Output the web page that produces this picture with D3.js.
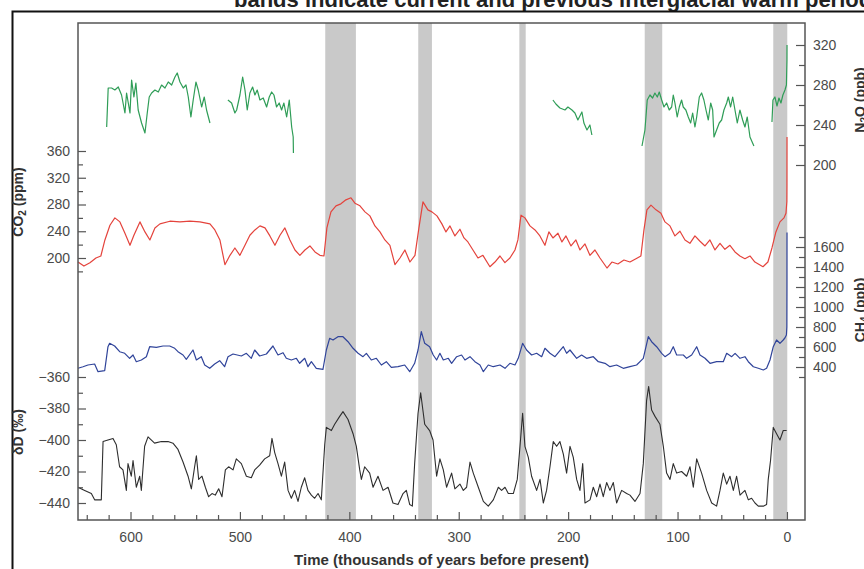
<!DOCTYPE html>
<html>
<head>
<meta charset="utf-8">
<script src="https://cdn.jsdelivr.net/npm/d3@7"></script>
<style>
  body { margin: 0; background: #fff; }
  svg { display: block; }
  text { font-family: "Liberation Sans", Arial, sans-serif; }
</style>
</head>
<body>
<svg id="chart" width="864" height="569"></svg>
<script>
// time in thousands of years before present, values per gas / proxy
var interglacials = [[422, 394], [337, 324.5], [244.6, 238.8], [130, 114], [12.5, -0.3]];

var ageTicks = [600, 500, 400, 300, 200, 100, 0];
var ageMinor = [640, 620, 580, 560, 540, 520, 480, 460, 440, 420, 380, 360, 340, 320,
  280, 260, 240, 220, 180, 160, 140, 120, 80, 60, 40, 20];
var co2Ticks = [200, 240, 280, 320, 360];
var co2Minor = [180, 220, 260, 300, 340];
var deutTicks = [-440, -420, -400, -380, -360];
var deutMinor = [-430, -410, -390, -370];
var n2oTicks = [200, 240, 280, 320];
var n2oMinor = [220, 260, 300];
var ch4Ticks = [400, 600, 800, 1000, 1200, 1400, 1600];
var ch4Minor = [300, 500, 700, 900, 1100, 1300, 1500, 1700];

var n2oA = [[621.8,238],[620.4,277],[617.3,277],[614.3,275],[611.2,278],[608.2,270],[605.1,252],[603.6,272],
  [600.5,252],[599,285],[596.9,268],[595.1,282],[593,255],[589.9,242],[586.8,232],[584.7,252],[582.9,268],
  [580.7,272],[577.7,275],[574.6,273],[571.6,280],[568.5,277],[565.5,283],[562.4,280],[559.4,288],
  [557.3,292],[554.8,283],[551.8,277],[549.3,280],[547.2,268],[544.8,248],[542.7,265],[540.2,283],
  [538.1,275],[535,258],[532.6,268],[530.5,255],[527.4,242]];
var n2oB = [[511,265],[507.6,262],[504.6,252],[503,255],[500,270],[497.5,288],[495.4,275],[493.3,255],
  [490.9,272],[488.4,278],[486.3,270],[484.2,275],[481.7,265],[478.7,267],[475.6,258],[473.2,268],
  [471,273],[468.9,270],[466.5,258],[464.1,262],[461.9,255],[459.8,262],[457.3,248],[454.9,265],
  [452.7,238],[451.3,228],[451.1,212]];
var n2oC = [[213.9,265],[211.2,261],[207.5,257],[202.9,255],[200.2,258],[196.5,255],[193.8,252],
  [191.1,245],[187.4,253],[185.6,242],[182.8,235],[180.1,240],[178.3,230]];
var n2oD = [[132.5,219],[129.8,235],[127.7,265],[125.2,270],[122.8,267],[120.7,272],[118.5,268],
  [116.7,273],[114.5,265],[112.4,258],[110,262],[107.6,255],[105.4,258],[103.9,270],[102.4,262],
  [100.3,248],[98.4,258],[96.3,265],[94.8,258],[92.4,255],[90.2,248],[88,242],[86.2,252],[84.1,238],
  [82.5,248],[80.1,268],[78,272],[75.9,265],[74,255],[71.9,245],[69.7,262],[67.9,255],[66.7,228],
  [64.3,235],[61.9,242],[59.7,245],[57.6,255],[55.1,262],[53.6,268],[51.5,258],[49.6,268],[47.5,255],
  [45.4,242],[43,255],[40.5,245],[38.4,238],[36.3,248],[33.8,228],[30.2,219]];
var n2oE = [[13.7,243],[12.8,265],[11,268],[9.1,259],[7.3,267],[5.5,262],[3.7,270],[1.8,275],
  [0.5,280],[0,305],[-0.05,320]];

var co2Data = [[648,194],[642.6,188],[637.1,193],[631.6,200],[627.1,203],[623.4,227],[618.8,249],
  [614.3,260],[609.7,254],[605.1,237],[600.5,219],[596.9,234],[591.4,254],[586.8,239],[582.3,227],
  [577.7,245],[573.1,251],[564,255],[554.8,254],[545.7,255],[536.6,254],[527.4,251],[522.9,242],
  [518.3,227],[513.7,190],[509.1,204],[504.6,215],[500,204],[495.4,219],[490.9,234],[486.3,242],
  [481.7,248],[477.1,245],[472.6,233],[468,219],[463.4,234],[458.9,245],[454.3,227],[449.7,212],
  [445.2,204],[440.6,212],[436,218],[431.4,209],[426.9,204],[423.2,203],[420.5,245],[416.8,269],
  [412.2,278],[407.7,281],[403.1,287],[398.5,290],[394.9,282],[390.3,278],[385.7,269],[381.2,263],
  [376.6,248],[372,239],[367.5,227],[362.9,219],[358.3,190],[353.7,200],[349.2,212],[344.6,194],
  [340,204],[336.4,245],[332.7,284],[328.2,272],[324.5,269],[319.9,263],[315.4,251],[311.7,239],
  [308,248],[303.5,233],[298.9,243],[295.2,230],[291.6,224],[287,212],[282.4,200],[277.9,204],
  [271.5,187],[266.9,194],[262.3,203],[257.8,193],[253.2,200],[248.6,212],[245.9,227],[243.1,264],
  [239.5,260],[234.9,248],[230.3,242],[225.8,233],[221.2,219],[217.6,239],[213.9,230],[209.3,237],
  [205.7,224],[202,233],[197.4,218],[192.9,227],[189.2,212],[184.6,221],[180.1,204],[175.5,212],
  [170.9,200],[164.5,185],[160,194],[154.5,191],[149,197],[143.5,194],[138,199],[133.5,203],
  [130.7,242],[128,272],[124.3,279],[119.7,272],[115.2,267],[111.5,254],[106.9,248],[102.4,233],
  [97.8,240],[93.2,227],[88.7,222],[84.1,233],[79.5,225],[74.9,218],[70.4,227],[65.8,212],[61.2,222],
  [56.7,213],[52.1,219],[47.5,209],[43,203],[38.4,199],[33.8,203],[29.3,194],[21.9,187],[17.4,194],
  [13.7,215],[10.1,239],[6.4,254],[2.7,260],[0.9,267],[0.1,284],[0,310],[-0.05,381]];

var ch4Data = [[648,387],[643.4,403],[638.9,420],[632.8,430],[629.7,353],[623.6,363],[620.6,603],
  [619.1,637],[614.5,610],[609.9,553],[605.3,537],[600.8,487],[597.7,520],[594.7,453],[590.1,470],
  [585.5,503],[582.5,603],[576.4,597],[570.3,610],[564.2,610],[559.6,587],[556.6,553],[552,520],
  [549,477],[542.9,570],[539.8,470],[535.3,503],[532.2,420],[527.6,387],[523.1,430],[518.5,463],
  [514,403],[510.9,503],[506.3,530],[498.7,510],[494.1,537],[489.6,487],[486.5,570],[482,510],
  [475.8,530],[469.8,610],[465.2,520],[460.6,543],[457.6,487],[453,470],[448.4,487],[445.4,437],
  [440.8,487],[437.8,403],[434.7,453],[430.2,387],[424.1,377],[421,570],[418,687],[414.9,670],
  [410.4,703],[405.8,703],[401.2,653],[396.6,587],[392,537],[387.5,503],[384.4,537],[379.9,470],
  [375.3,487],[370.7,420],[366.2,453],[361.6,397],[355.5,403],[349.4,420],[344.8,353],[340.3,437],
  [337.2,570],[334.2,753],[331.1,637],[326.6,603],[323.3,520],[320.2,470],[317.2,537],[314.1,470],
  [309.5,487],[306.5,437],[301.9,503],[297.4,520],[294.3,470],[289.7,503],[285.2,453],[280.6,420],
  [277.5,353],[273,420],[268.4,403],[262.3,420],[257.7,387],[253.2,437],[248.6,420],[245.6,487],
  [241.6,637],[238,570],[233.4,520],[228.8,537],[224.2,503],[221.2,587],[216.6,537],[212,503],
  [207.5,563],[204.4,603],[201.4,537],[198.3,570],[192.2,487],[187.7,520],[183.1,487],[177,503],
  [172.4,453],[166.3,437],[161.8,403],[155.7,420],[149.6,387],[143.5,403],[137.4,420],[131.3,487],
  [126.7,703],[123.7,653],[119.1,603],[114.5,537],[111.5,503],[106.9,537],[103.9,603],[100.8,520],
  [94.7,520],[91.7,487],[87.1,520],[82.5,603],[79.5,520],[74.9,487],[70.3,437],[64.3,453],[58.2,453],
  [55.1,537],[50.5,503],[47.4,537],[42.9,487],[38.4,503],[35.3,453],[30.7,403],[26.2,387],[21.6,370],
  [18.6,387],[15.5,470],[12.5,603],[9.5,670],[6.4,637],[3.4,670],[1.9,690],[0.5,720],[0.1,800],
  [0,1200],[-0.05,1745]];

var deutData = [[648,-430],[641.9,-432],[635.8,-434],[632.8,-438],[626.7,-438],[625.1,-401],
  [620.6,-400],[616,-399],[613,-403],[610,-417],[606.9,-419],[603.8,-432],[602.3,-415],[599.3,-423],
  [597.7,-413],[594.7,-430],[591.6,-423],[590.1,-432],[587.1,-404],[584,-398],[578,-402],[571.8,-401],
  [565.7,-401],[561.2,-402],[556.6,-406],[552,-414],[547.4,-423],[544.4,-431],[541.4,-417],
  [539.8,-410],[537.7,-425],[534.7,-423],[531.6,-430],[528.6,-436],[525.5,-434],[522.5,-435],
  [519.4,-431],[516.4,-436],[513.3,-419],[510.3,-417],[506.3,-419],[503.3,-412],[498.7,-415],
  [494.1,-423],[489.6,-424],[486.5,-419],[482,-416],[477.4,-412],[472.8,-410],[470.7,-399],
  [468.2,-408],[465.2,-415],[462.1,-423],[459.1,-414],[456,-432],[453,-437],[450,-432],[446.9,-439],
  [443.9,-430],[440.8,-424],[437.8,-432],[434.7,-435],[431.7,-437],[428.6,-434],[425.6,-438],
  [422.5,-403],[421,-392],[416.4,-394],[413.4,-390],[408.8,-385],[405.8,-382],[401.2,-387],
  [396.6,-396],[393.6,-404],[390.5,-419],[389,-425],[386,-417],[381.4,-421],[378.3,-430],
  [373.8,-423],[369.2,-432],[364.6,-430],[360.1,-440],[355.5,-441],[350.9,-434],[347.9,-432],
  [344.8,-441],[342.4,-442],[340.3,-415],[337.2,-383],[334.8,-370],[331.1,-390],[326.6,-394],
  [323.5,-400],[320.2,-423],[317.2,-412],[314.1,-419],[311.1,-430],[306.5,-421],[303.5,-431],
  [298.9,-428],[295.8,-432],[292.8,-430],[289.7,-414],[286.7,-421],[282.1,-430],[277.5,-439],
  [273,-442],[268.4,-438],[263.8,-430],[260.8,-432],[257.7,-430],[254.7,-434],[250.1,-434],
  [246.5,-425],[244,-404],[241.6,-383],[239.5,-404],[236.4,-411],[233.4,-423],[228.8,-432],
  [225.7,-425],[222.7,-440],[219.7,-432],[216.6,-417],[213.6,-401],[210.5,-404],[207.5,-401],
  [204.4,-409],[201.4,-421],[198.3,-404],[195.3,-411],[192.2,-425],[189.2,-432],[186.7,-415],
  [184.6,-440],[180,-438],[177,-430],[173.9,-436],[170.9,-428],[167.9,-436],[164.8,-427],
  [161.8,-432],[158.7,-427],[155.7,-440],[151.1,-432],[146.5,-434],[143.5,-435],[138.9,-439],
  [134.3,-434],[131.3,-415],[128.3,-375],[126.4,-366],[123.7,-381],[120.6,-385],[116.1,-390],
  [113,-404],[110,-421],[106.9,-425],[103.9,-415],[100.8,-421],[96.3,-420],[91.7,-423],[88.6,-417],
  [85.6,-430],[82.5,-412],[78,-421],[73.4,-432],[68.8,-440],[64.3,-442],[61.2,-432],[58.2,-421],
  [55.1,-428],[52.1,-423],[49,-432],[46,-423],[42.9,-435],[38.4,-432],[35.3,-438],[32.3,-437],
  [29.2,-440],[26.2,-442],[21.6,-442],[18.6,-441],[17.1,-425],[15,-413],[12.5,-392],[9.5,-396],
  [6.4,-400],[3.4,-394],[0.3,-394]];

var box = { left: 78, right: 805, top: 23, bottom: 520 };
var font = '"Liberation Sans", Arial, sans-serif';
var svg = d3.select('#chart');

var x = d3.scaleLinear().domain([648, -16.5]).range([box.left, box.right]);
var yCO2 = d3.scaleLinear().domain([200, 360]).range([258, 151]);
var yDeut = d3.scaleLinear().domain([-440, -360]).range([503, 377]);
var yN2O = d3.scaleLinear().domain([200, 320]).range([165, 45]);
var yCH4 = d3.scaleLinear().domain([400, 1600]).range([367, 247]);

// title, cut at the top like the screenshot
svg.append('text')
  .attr('x', 234).attr('y', 7)
  .attr('font-size', 22).attr('font-weight', 'bold')
  .attr('fill', '#222')
  .text('bands indicate current and previous interglacial warm periods');

// outer frame
svg.append('path')
  .attr('d', 'M12.5,569V11.5H864')
  .attr('fill', 'none').attr('stroke', '#111').attr('stroke-width', 2);

svg.selectAll('rect.band')
  .data(interglacials)
  .join('rect')
  .attr('class', 'band')
  .attr('x', function(d) { return x(d[0]) })
  .attr('width', function(d) { return x(d[1]) - x(d[0]) })
  .attr('y', box.top)
  .attr('height', box.bottom - box.top)
  .attr('fill', '#c9c9c9');

var drawSeries = function(data, yScale, color, width) {
  var line = d3.line()
    .x(function(d) { return x(d[0]) })
    .y(function(d) { return yScale(d[1]) });
  svg.append('path')
    .datum(data)
    .attr('d', line)
    .attr('fill', 'none')
    .attr('stroke', color)
    .attr('stroke-width', width)
    .attr('stroke-linejoin', 'round');
}

drawSeries(deutData, yDeut, '#2e2e2e', 1.1);
drawSeries(ch4Data, yCH4, '#30449a', 1.2);
drawSeries(co2Data, yCO2, '#e4433c', 1.2);
;[n2oA, n2oB, n2oC, n2oD, n2oE].forEach(function(seg) {
  drawSeries(seg, yN2O, '#2f9d57', 1.2);
});

svg.append('rect')
  .attr('x', box.left).attr('y', box.top)
  .attr('width', box.right - box.left).attr('height', box.bottom - box.top)
  .attr('fill', 'none').attr('stroke', '#555').attr('stroke-width', 1.5);

var styleAxis = function(g) {
  g.attr('font-size', 14).attr('font-family', font);
  g.select('.domain').remove();
  g.selectAll('line').attr('stroke', '#555').attr('stroke-width', 1.2);
  g.selectAll('text').attr('fill', '#4a4a4a');
}

var addAxis = function(axis, tx, ty) {
  svg.append('g')
    .attr('transform', 'translate(' + tx + ',' + ty + ')')
    .call(axis)
    .call(styleAxis);
}

var plain = d3.format('d');

addAxis(d3.axisLeft(yCO2).tickValues(co2Minor).tickSize(-5).tickFormat(''), box.left, 0);
addAxis(d3.axisLeft(yCO2).tickValues(co2Ticks).tickSize(-8).tickPadding(8), box.left, 0);
addAxis(d3.axisLeft(yDeut).tickValues(deutMinor).tickSize(-5).tickFormat(''), box.left, 0);
addAxis(d3.axisLeft(yDeut).tickValues(deutTicks).tickSize(-8).tickPadding(8).tickFormat(plain), box.left, 0);
addAxis(d3.axisRight(yN2O).tickValues(n2oMinor).tickSize(-6).tickFormat(''), box.right, 0);
addAxis(d3.axisRight(yN2O).tickValues(n2oTicks).tickSize(-9).tickPadding(8), box.right, 0);
addAxis(d3.axisRight(yCH4).tickValues(ch4Minor).tickSize(-6).tickFormat(''), box.right, 0);
addAxis(d3.axisRight(yCH4).tickValues(ch4Ticks).tickSize(-9).tickPadding(8).tickFormat(plain), box.right, 0);
addAxis(d3.axisBottom(x).tickValues(ageMinor).tickSize(-5).tickFormat(''), 0, box.bottom);
addAxis(d3.axisBottom(x).tickValues(ageTicks).tickSize(-8).tickPadding(12), 0, box.bottom);

// axis titles
var axisTitle = function(tx, ty, parts) {
  var t = svg.append('text')
    .attr('transform', 'translate(' + tx + ',' + ty + ') rotate(-90)')
    .attr('text-anchor', 'middle')
    .attr('font-size', 14).attr('font-weight', 'bold')
    .attr('fill', '#333');
  parts.forEach(function(p) {
    var s = t.append('tspan').text(p.text);
    if (p.sub) s.attr('font-size', 10).attr('dy', 3);
    if (p.after) s.attr('dy', -3);
  });
}

axisTitle(23, 202, [{text: 'CO'}, {text: '2', sub: true}, {text: ' (ppm)', after: true}]);
axisTitle(23, 432, [{text: 'δD (‰)'}]);
axisTitle(865, 100, [{text: 'N'}, {text: '2', sub: true}, {text: 'O (ppb)', after: true}]);
axisTitle(865, 310, [{text: 'CH'}, {text: '4', sub: true}, {text: ' (ppb)', after: true}]);

svg.append('text')
  .attr('x', (box.left + box.right) / 2).attr('y', 565)
  .attr('text-anchor', 'middle')
  .attr('font-size', 15).attr('font-weight', 'bold')
  .attr('fill', '#333')
  .text('Time (thousands of years before present)');
</script>
</body>
</html>
